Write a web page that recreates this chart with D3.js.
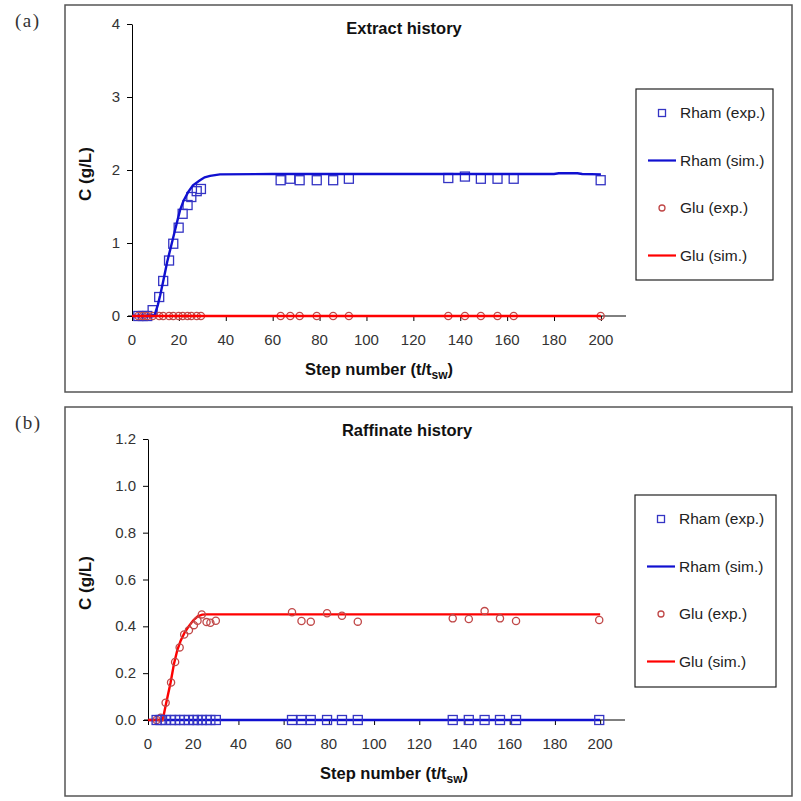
<!DOCTYPE html>
<html lang="en">
<head>
<meta charset="UTF-8">
<title>Extract / Raffinate history</title>
<script src="https://cdn.jsdelivr.net/npm/d3@7"></script>
<style>
  body { margin: 0; background: #fff; }
  text { font-family: Arial, "Liberation Sans", sans-serif; }
</style>
</head>
<body>
<script>
// ---- data ----
const xTicks = [0, 20, 40, 60, 80, 100, 120, 140, 160, 180, 200];
const yTicksExtract = [0, 1, 2, 3, 4];
const yTicksRaffinate = [0, 0.2, 0.4, 0.6, 0.8, 1.0, 1.2];
const legendLabels = ["Rham (exp.)", "Rham (sim.)", "Glu (exp.)", "Glu (sim.)"];

// (a) extract
const extExpStep = [2.7, 4.6, 6.5, 8.8, 11.6, 13.3, 15.8, 17.6, 19.9, 21.6, 23.7, 25.3, 27.6, 29.4,
                    63.4, 67.5, 71.5, 78.8, 85.8, 92.5, 134.9, 142, 148.8, 155.9, 162.8, 199.9];
const extRhamExp = [0, 0, 0, 0.08, 0.26, 0.48, 0.76, 0.99, 1.21, 1.40, 1.52, 1.63, 1.71, 1.74,
                    1.86, 1.88, 1.86, 1.86, 1.86, 1.88, 1.89, 1.91, 1.88, 1.88, 1.88, 1.86];
const extGluExp = [0, 0, 0, 0, 0, 0, 0, 0, 0, 0, 0, 0, 0, 0,
                   0, 0, 0, 0, 0, 0, 0, 0, 0, 0, 0, 0];
const extRhamSimStep = [0, 9.5, 11, 12, 13.4, 15, 17, 19, 20.5, 22, 24, 26, 29, 31, 33.3, 37.5, 60, 180, 182, 190, 192, 200];
const extRhamSim = [0, 0, 0.15, 0.28, 0.49, 0.74, 1.0, 1.26, 1.45, 1.58, 1.70, 1.79, 1.86, 1.90, 1.92, 1.94, 1.945, 1.945, 1.955, 1.955, 1.945, 1.94];
const extGluSimStep = [0, 200];
const extGluSim = [0, 0];

// (b) raffinate
const rafExpStep = [3.8, 5.6, 7.8, 10.2, 12.0, 14.0, 16.0, 18.1, 20.3, 21.9, 23.8, 25.9, 27.6, 30.0,
                    63.7, 67.9, 72, 79.2, 85.8, 92.8, 134.8, 141.9, 148.9, 155.7, 162.8, 199.6];
const rafRhamExp = [0, 0, 0, 0, 0, 0, 0, 0, 0, 0, 0, 0, 0, 0,
                    0, 0, 0, 0, 0, 0, 0, 0, 0, 0, 0, 0];
const rafGluExp = [0, 0.01, 0.074, 0.16, 0.248, 0.31, 0.365, 0.383, 0.405, 0.424, 0.451, 0.418, 0.415, 0.424,
                   0.46, 0.423, 0.42, 0.456, 0.445, 0.42, 0.434, 0.431, 0.465, 0.434, 0.423, 0.427];
const rafRhamSimStep = [0, 200];
const rafRhamSim = [0, 0];
const rafGluSimStep = [0, 6.5, 8, 10, 11.5, 13, 14.5, 16, 18, 20, 22, 24, 26, 200];
const rafGluSim = [0, 0, 0.07, 0.16, 0.24, 0.30, 0.34, 0.37, 0.40, 0.425, 0.443, 0.45, 0.451, 0.451];

const BLUE = "#1010d0", RED = "#ff0000", SQ = "#3434c4", CIRC = "#c04848";

const svg = d3.select("body").append("svg")
  .attr("width", 801).attr("height", 801);

function zip(xs, ys) { return xs.map((x, i) => [x, ys[i]]); }

function drawPanel(p) {
  const g = svg.append("g");

  // outer frame
  g.append("rect")
    .attr("x", p.box[0]).attr("y", p.box[1])
    .attr("width", p.box[2] - p.box[0]).attr("height", p.box[3] - p.box[1])
    .attr("fill", "none").attr("stroke", "#555").attr("stroke-width", 1.5);

  g.append("text")
    .attr("x", 15).attr("y", p.box[1] + 22)
    .style("font-family", "'Liberation Serif', 'DejaVu Serif', serif")
    .style("font-size", "19px").style("letter-spacing", "1.5px")
    .attr("fill", "#333").text(p.tag);

  const x = d3.scaleLinear().domain([0, p.xMax]).range(p.xRange);
  const y = d3.scaleLinear().domain(p.yDomain).range(p.yRange);

  // axes
  const xAxis = d3.axisBottom(x).tickValues(xTicks).tickSize(5).tickFormat("");
  g.append("g").attr("transform", `translate(0,${p.yRange[0]})`).call(xAxis)
    .call(a => a.select(".domain").attr("d", `M${p.xRange[0] - 4},0H${p.xRange[1]}`));
  g.append("g").attr("transform", `translate(${p.xRange[0]},0)`)
    .call(d3.axisLeft(y).tickValues(p.yTicks).tickSize(5).tickFormat("").tickSizeOuter(0));

  g.selectAll(".xl").data(xTicks).join("text")
    .attr("x", d => x(d)).attr("y", p.yRange[0] + 29)
    .attr("text-anchor", "middle").attr("fill", "#333")
    .style("font-size", "15px").text(d => d);
  g.selectAll(".yl").data(p.yTicks).join("text")
    .attr("x", p.xRange[0] - 12).attr("y", d => y(d) + 5)
    .attr("text-anchor", "end").attr("fill", "#333")
    .style("font-size", "15px").text(p.yFmt);

  // titles
  g.append("text").attr("x", p.titleX).attr("y", p.box[1] + 29)
    .attr("text-anchor", "middle").style("font-size", "16.5px").style("font-weight", "bold")
    .attr("fill", "#111").text(p.title);

  const xl = g.append("text").attr("x", p.xLabelX).attr("y", p.yRange[0] + 59)
    .attr("text-anchor", "middle").style("font-size", "16.5px").style("font-weight", "bold")
    .attr("fill", "#111");
  xl.append("tspan").text("Step number (t/t");
  xl.append("tspan").attr("dy", 4).style("font-size", "12px").text("sw");
  xl.append("tspan").attr("dy", -4).text(")");

  g.append("text")
    .attr("transform", `translate(91,${p.yLabelY}) rotate(-90)`)
    .attr("text-anchor", "middle").style("font-size", "17px").style("font-weight", "bold")
    .attr("fill", "#111").text("C (g/L)");

  const line = d3.line().x(d => x(d[0])).y(d => y(d[1]));

  p.series.forEach(s => {
    if (s.type === "line") {
      g.append("path").datum(zip(s.xs, s.ys)).attr("d", line)
        .attr("fill", "none").attr("stroke", s.color).attr("stroke-width", 2.4);
    } else if (s.type === "sq") {
      g.selectAll(null).data(zip(s.xs, s.ys)).join("rect")
        .attr("x", d => x(d[0]) - 4.5).attr("y", d => y(d[1]) - 4.5)
        .attr("width", 9).attr("height", 9)
        .attr("fill", "none").attr("stroke", SQ).attr("stroke-width", 1.3);
    } else {
      g.selectAll(null).data(zip(s.xs, s.ys)).join("circle")
        .attr("cx", d => x(d[0])).attr("cy", d => y(d[1])).attr("r", 3.6)
        .attr("fill", "none").attr("stroke", CIRC).attr("stroke-width", 1.3);
    }
  });

  // legend
  const L = p.legend;
  g.append("rect").attr("x", L[0]).attr("y", L[1])
    .attr("width", L[2] - L[0]).attr("height", L[3] - L[1])
    .attr("fill", "#fff").attr("stroke", "#222").attr("stroke-width", 1.2);
  const rowY = i => L[1] + 24 + i * 47.5;
  const mx = L[0] + 26;
  legendLabels.forEach((lab, i) => {
    const yy = rowY(i);
    if (i === 0) {
      g.append("rect").attr("x", mx - 3.5).attr("y", yy - 3.5).attr("width", 7).attr("height", 7)
        .attr("fill", "none").attr("stroke", SQ).attr("stroke-width", 1.3);
    } else if (i === 2) {
      g.append("circle").attr("cx", mx).attr("cy", yy).attr("r", 3)
        .attr("fill", "none").attr("stroke", CIRC).attr("stroke-width", 1.3);
    } else {
      g.append("line").attr("x1", L[0] + 12).attr("x2", L[0] + 40)
        .attr("y1", yy).attr("y2", yy)
        .attr("stroke", i === 1 ? BLUE : RED).attr("stroke-width", 2.2);
    }
    g.append("text").attr("x", L[0] + 44).attr("y", yy + 5)
      .style("font-size", "15.5px").attr("fill", "#222").text(lab);
  });
}

drawPanel({
  tag: "(a)", title: "Extract history",
  box: [65, 5, 792, 392],
  xMax: 210.7, xRange: [132, 626],
  yDomain: [0, 4], yRange: [316, 24], yTicks: yTicksExtract, yFmt: d3.format("d"),
  titleX: 404, xLabelX: 379, yLabelY: 174,
  legend: [636, 89, 773, 280],
  series: [
    { type: "sq", xs: extExpStep, ys: extRhamExp },
    { type: "circ", xs: extExpStep, ys: extGluExp },
    { type: "line", xs: extRhamSimStep, ys: extRhamSim, color: BLUE },
    { type: "line", xs: extGluSimStep, ys: extGluSim, color: RED }
  ]
});

drawPanel({
  tag: "(b)", title: "Raffinate history",
  box: [65, 407, 792, 796],
  xMax: 211, xRange: [148, 625],
  yDomain: [0, 1.2], yRange: [720, 439], yTicks: yTicksRaffinate, yFmt: d3.format(".1f"),
  titleX: 407, xLabelX: 394, yLabelY: 583,
  legend: [635, 495, 776, 687],
  series: [
    { type: "line", xs: rafRhamSimStep, ys: rafRhamSim, color: BLUE },
    { type: "line", xs: rafGluSimStep, ys: rafGluSim, color: RED },
    { type: "circ", xs: rafExpStep, ys: rafGluExp },
    { type: "sq", xs: rafExpStep, ys: rafRhamExp }
  ]
});
</script>
</body>
</html>
